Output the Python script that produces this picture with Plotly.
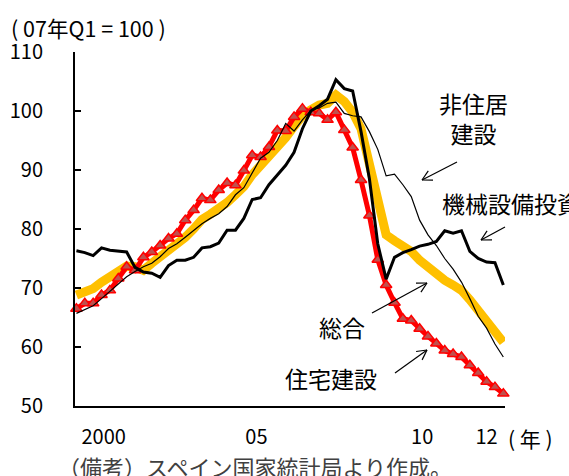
import math
import plotly.graph_objects as go

# ---- data (index 2007Q1 = 100), quarterly 2000Q1 .. 2012Q4 ----
quarters = [f"{y}Q{q}" for y in range(2000, 2013) for q in range(1, 5)]

total = [68.8, 69.3, 69.9, 71.0, 72.0, 73.1, 73.7, 73.6, 73.0, 74.2,
         75.2, 76.2, 77.4, 78.6, 80.0, 81.6, 82.5, 83.4, 84.5, 85.8,
         87.2, 89.2, 90.7, 92.0, 93.8, 95.5, 97.4, 99.2, 100.2, 101.0,
         101.3, 102.7, 101.6, 99.8, 97.0, 91.5, 86.0, 79.0, 78.0, 77.3,
         76.2, 74.7, 73.5, 72.3, 71.3, 70.5, 69.6, 68.0, 66.2, 64.0,
         62.5, 60.8]

housing = [66.5, 67.4, 67.4, 68.8, 69.6, 71.6, 73.6, 73.0, 75.2, 76.1,
           77.2, 78.4, 79.2, 81.5, 83.2, 85.2, 84.9, 86.6, 87.8, 87.4,
           89.9, 92.5, 92.2, 93.9, 96.7, 96.6, 99.0, 100.4, 99.8, 99.6,
           98.5, 99.8, 96.8, 93.8, 88.3, 82.3, 74.8, 70.5, 67.5, 64.8,
           64.5, 63.1, 61.8, 60.6, 59.4, 58.8, 58.3, 56.9, 55.6, 54.1,
           53.2, 52.1]

nonres = [65.7, 66.3, 67.0, 68.2, 69.4, 70.6, 71.9, 72.8, 73.6, 74.2,
          75.3, 76.7, 77.5, 78.6, 79.8, 80.9, 81.8, 82.6, 83.8, 85.8,
          87.0, 89.5, 92.0, 93.0, 95.0, 97.9, 96.6, 98.5, 100.1, 100.5,
          101.3, 101.5, 99.6, 99.2, 99.0, 96.5, 93.5, 89.0, 89.3, 87.5,
          85.5, 81.5, 79.0, 77.2, 75.0, 73.2, 71.0, 68.2, 65.2, 63.2,
          60.5, 58.3]

machinery = [76.3, 76.0, 75.5, 76.8, 76.4, 76.3, 76.1, 73.5, 72.7, 72.5,
             71.8, 73.8, 74.7, 74.7, 75.2, 76.8, 77.0, 77.6, 79.8, 79.8,
             81.8, 85.0, 85.3, 87.5, 89.2, 90.8, 93.0, 97.0, 100.0, 100.9,
             102.0, 105.3, 103.8, 103.4, 96.5, 88.5, 77.5, 71.5, 75.2, 76.0,
             76.5, 77.1, 77.4, 77.9, 79.7, 79.3, 79.7, 76.2, 75.0, 74.4,
             74.3, 70.5]

tick_pos = [3.25, 21.5, 41.3, 49.0]
tick_text = ["2000", "05", "10", "12"]

x = list(range(len(quarters)))

W, H = 569, 476
ML, MR, MT, MB = 75, 64, 52, 70
PW, PH = W - ML - MR, H - MT - MB
FONT = "Noto Sans CJK JP"


def px(xp):
    return (xp - ML) / PW


def py(yp):
    return 1 - (yp - MT) / PH


fig = go.Figure()
fig.add_trace(go.Scatter(x=x, y=total, mode="lines", name="総合",
                         line=dict(color="#FFC000", width=9), cliponaxis=False))
fig.add_trace(go.Scatter(x=x, y=housing, mode="lines+markers", name="住宅建設",
                         line=dict(color="#FF0000", width=5),
                         marker=dict(symbol="triangle-up", size=10, color="#C0504D",
                                     line=dict(color="#FF0000", width=1.5)),
                         cliponaxis=False))
fig.add_trace(go.Scatter(x=x, y=machinery, mode="lines", name="機械設備投資",
                         line=dict(color="#000000", width=3), cliponaxis=False))
fig.add_trace(go.Scatter(x=x, y=nonres, mode="lines", name="非住居建設",
                         line=dict(color="#000000", width=1.2), cliponaxis=False))

shapes = []


def arrow(x0, y0, x1, y1, L=11, ang=28):
    dx, dy = x1 - x0, y1 - y0
    n = math.hypot(dx, dy)
    ux, uy = -dx / n, -dy / n
    shapes.append(dict(type="line", xref="paper", yref="paper",
                       x0=px(x0), y0=py(y0), x1=px(x1), y1=py(y1),
                       line=dict(color="black", width=1.2)))
    for s in (1, -1):
        a = math.radians(ang * s)
        wx = ux * math.cos(a) - uy * math.sin(a)
        wy = ux * math.sin(a) + uy * math.cos(a)
        shapes.append(dict(type="line", xref="paper", yref="paper",
                           x0=px(x1), y0=py(y1), x1=px(x1 + wx * L), y1=py(y1 + wy * L),
                           line=dict(color="black", width=1.2)))


arrow(457, 162, 422, 180)
arrow(505, 227, 481, 240)
arrow(372, 313, 427, 283)
arrow(395, 373, 427, 350)

annotations = []


def label(text, xp, yp, size=23, xanchor="center", color="#000000"):
    annotations.append(dict(text=text, xref="paper", yref="paper",
                            x=px(xp), y=py(yp), xanchor=xanchor, yanchor="middle",
                            showarrow=False, font=dict(family=FONT, size=size, color=color)))


label("非住居<br>建設", 473, 118)
label("機械設備投資", 440, 203, xanchor="left")
label("総合", 342, 327)
label("住宅建設", 331, 378)
label("( 07年Q1 = 100 )", 9, 27, size=21.5, xanchor="left")
label("( 年 )", 506, 438, size=21, xanchor="left")
label("（備考）スペイン国家統計局より作成。", 56, 466, size=22, xanchor="left", color="#404040")

fig.update_layout(
    width=W, height=H,
    margin=dict(l=ML, r=MR, t=MT, b=MB, autoexpand=False),
    paper_bgcolor="white", plot_bgcolor="white",
    showlegend=False,
    font=dict(family=FONT, size=20, color="#000000"),
    shapes=shapes, annotations=annotations,
    xaxis=dict(range=[-0.17, 51.2], showgrid=False, zeroline=False, automargin=False,
               showline=True, linecolor="black", linewidth=2,
               tickmode="array", tickvals=tick_pos, ticktext=tick_text,
               ticks="", ticklabelstandoff=12,
               tickfont=dict(family=FONT, size=20, color="black")),
    yaxis=dict(range=[50, 110], showgrid=False, zeroline=False, automargin=False,
               showline=True, linecolor="black", linewidth=2,
               tickmode="array", tickvals=[50, 60, 70, 80, 90, 100, 110],
               ticks="inside", ticklen=6, tickwidth=1.5, tickcolor="black",
               ticklabelstandoff=26,
               tickfont=dict(family=FONT, size=20, color="black")),
)

fig.write_html("out.html", config={"displayModeBar": False},
               post_script="document.body.style.margin='0';document.body.style.padding='0';")
